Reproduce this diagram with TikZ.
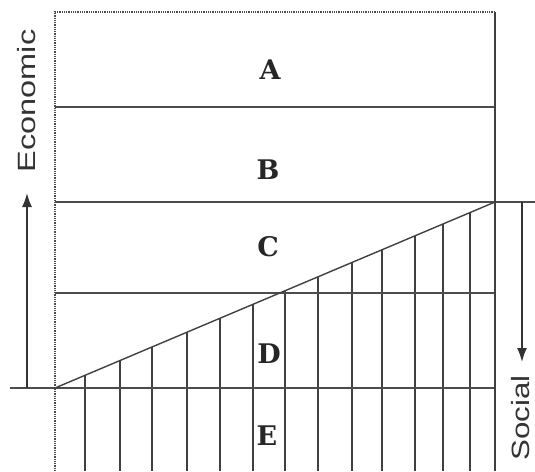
\documentclass[tikz,border=0pt]{standalone}
\usepackage{fontspec}
\setmainfont{Liberation Sans}
\newfontfamily\lblfont{DejaVu Serif}
\usetikzlibrary{arrows.meta}
\begin{document}
\begin{tikzpicture}[x=1pt,y=-1pt,
  gridline/.style={line width=1.4pt,draw=black!75},
  hline/.style={line width=1.4pt,draw=black!70},
  edgeline/.style={line width=1.5pt,draw=black!70,dash pattern=on 1pt off 0.8pt},
  axisarrow/.style={line width=1.6pt,draw=black!80,-{Latex[length=14pt,width=10pt]}},
  zonelabel/.style={font=\lblfont\bfseries\fontsize{27}{27}\selectfont,text=black!85,inner sep=0pt},
  axislabel/.style={font=\fontsize{25}{25}\selectfont,text=black!80,inner sep=0pt,rotate=90}]
\useasboundingbox (0,0) rectangle (535,471);
% frame corners
\coordinate (tl) at (55,12);
\coordinate (tr) at (495,12);
\coordinate (bl) at (55,471);
\coordinate (br) at (495,471);
\coordinate (base) at (55,388);
\coordinate (peak) at (495,202);
% vertical hatching from diagonal down
\foreach \xx in {85,120,152,187,220,253,285,318,352,382,415,443,470}{
  \pgfmathsetmacro\yy{388-(\xx-55)*0.422727}
  \draw[gridline] (\xx,\yy) -- (\xx,471);
}
% horizontal lines
\draw[hline] (55,107) -- (495,107);
\draw[hline] (55,202) -- (535,202);
\draw[hline] (55,293) -- (495,293);
\draw[hline] (10,388) -- (495,388);
% diagonal
\draw[gridline] (base) -- (peak);
% frame
\draw[edgeline] (bl) -- (tl) -- (tr);
\draw[gridline] (tr) -- (br);
% arrows
\coordinate (ea) at (27,388);
\coordinate (eb) at (27,193);
\draw[axisarrow] (ea) -- (eb);
\coordinate (sa) at (522,202);
\coordinate (sb) at (522,362);
\draw[axisarrow] (sa) -- (sb);
% axis labels
\node[axislabel] (econ) at (27,101) {\scalebox{1.3}[1]{Economic}};
\node[axislabel] (soc) at (521,418) {\scalebox{1.25}[1]{Social}};
% zone labels
\node[zonelabel] (A) at (270,70) {A};
\node[zonelabel] (B) at (268,170) {B};
\node[zonelabel] (C) at (268,247) {C};
\node[zonelabel] (D) at (269,354) {D};
\node[zonelabel] (E) at (267,436) {E};
\end{tikzpicture}
\end{document}
